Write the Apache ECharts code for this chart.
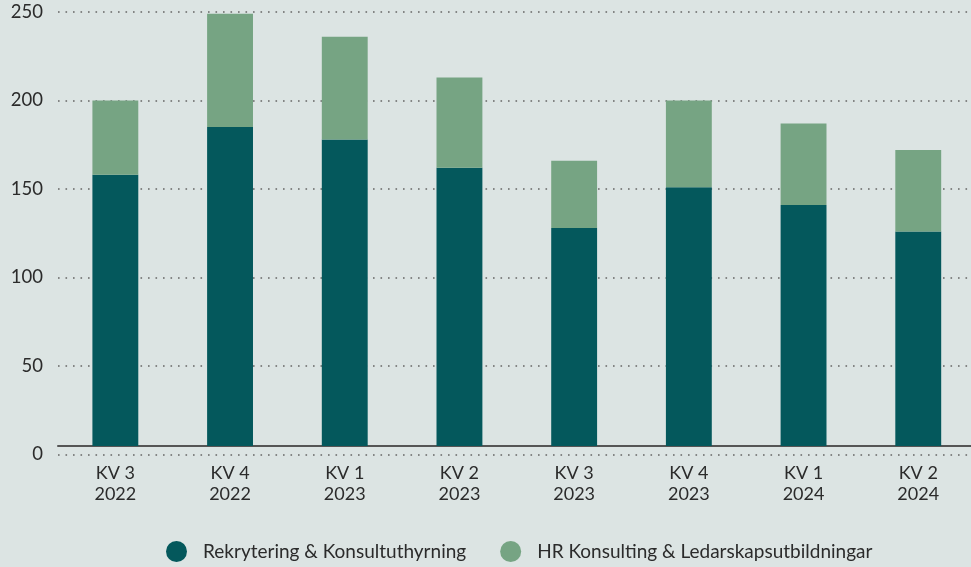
<!DOCTYPE html>
<html>
<head>
<meta charset="utf-8">
<script src="https://cdn.jsdelivr.net/npm/echarts@6/dist/echarts.min.js"></script>
<style>
  html, body { margin: 0; padding: 0; background: #dce4e3; }
  #chart { width: 971px; height: 567px; }
</style>
</head>
<body>
<div id="chart"></div>
<script>
// kvartal
const categories = ['KV 3\n2022', 'KV 4\n2022', 'KV 1\n2023', 'KV 2\n2023', 'KV 3\n2023', 'KV 4\n2023', 'KV 1\n2024', 'KV 2\n2024']
const rekrytering = [158, 185, 178, 162, 128, 151, 141, 126]
const hrKonsulting = [42, 64, 58, 51, 38, 49, 46, 46]
const seriesNames = ['Rekrytering & Konsultuthyrning', 'HR Konsulting & Ledarskapsutbildningar']
const colors = ['#04585c', '#76a483']

const FONT = 'Lato, "Noto Sans", sans-serif'

const myChart = echarts.init(document.getElementById('chart'))

const option = {
    backgroundColor: '#dce4e3',
    color: colors,
    textStyle: { fontFamily: FONT },
    legend: {
        data: seriesNames,
        top: 536,
        left: 161,
        icon: 'circle',
        itemWidth: 21,
        itemHeight: 21,
        itemGap: 34,
        textStyle: { fontSize: 19, color: '#2b2b2b', fontFamily: FONT, padding: [0, 0, 0, 11] }
    },
    // grid 0: scale + dotted lines, grid 1: bars (axis line sits a bit above zero)
    grid: [
        { left: 58, top: 12, width: 917.6, height: 442.5, outerBoundsMode: 'none' },
        { left: 58, top: 12, width: 917.6, height: 434, outerBoundsMode: 'none' }
    ],
    xAxis: [
        { type: 'category', gridIndex: 0, data: categories, show: false },
        {
            type: 'category',
            gridIndex: 1,
            data: categories,
            axisLine: { lineStyle: { color: '#555', width: 2 } },
            axisTick: { show: false },
            axisLabel: { color: '#2b2b2b', fontSize: 18, lineHeight: 21, margin: 17, fontFamily: FONT }
        }
    ],
    yAxis: [
        {
            type: 'value',
            gridIndex: 0,
            min: 0,
            max: 250,
            interval: 50,
            axisLine: { show: false },
            axisTick: { show: false },
            axisLabel: { color: '#2b2b2b', fontSize: 18.5, margin: 15, fontFamily: FONT },
            splitLine: { lineStyle: { color: '#666', width: 1.6, type: [1.6, 5.9] } }
        },
        {
            type: 'value',
            gridIndex: 1,
            min: 4.8,
            max: 250,
            show: false,
            splitLine: { show: false }
        }
    ],
    series: [
        {
            name: seriesNames[0],
            type: 'bar',
            stack: 'total',
            xAxisIndex: 1,
            yAxisIndex: 1,
            barWidth: '40%',
            data: rekrytering
        },
        {
            name: seriesNames[1],
            type: 'bar',
            stack: 'total',
            xAxisIndex: 1,
            yAxisIndex: 1,
            barWidth: '40%',
            data: hrKonsulting
        }
    ]
}

myChart.setOption(option)
</script>
</body>
</html>
